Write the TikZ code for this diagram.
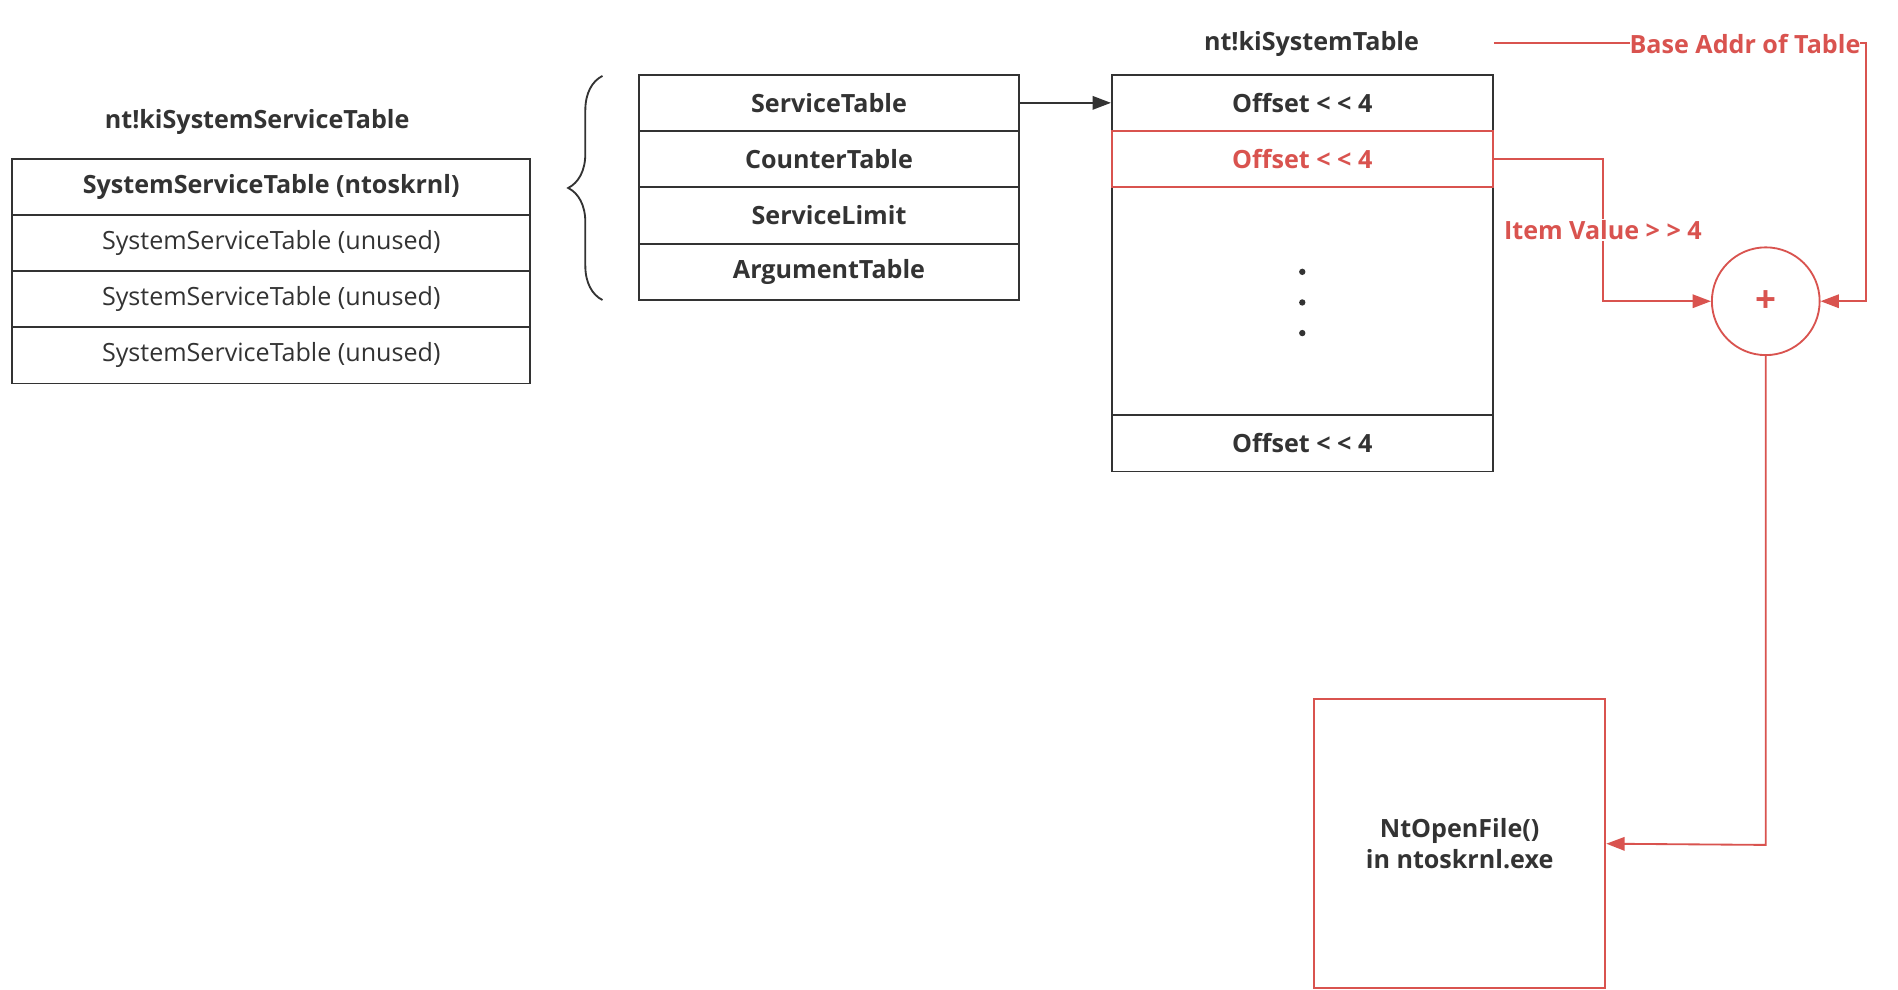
\documentclass[tikz,border=0pt]{standalone}
\usepackage{fontspec}
\setmainfont{Open Sans}
\usetikzlibrary{arrows.meta,decorations.pathreplacing}
\definecolor{ink}{HTML}{333333}
\definecolor{redc}{HTML}{D9534F}
\newcommand{\fsz}{\fontsize{20.5}{24}\selectfont}
\begin{document}
\begin{tikzpicture}[x=1pt,y=-1pt,
  cell/.style={draw=ink,line width=1.5pt,rectangle,inner sep=0pt,text=ink,font=\fsz\bfseries},
  lcell/.style={cell,minimum width=423pt,minimum height=45.75pt},
  mcell/.style={cell,minimum width=310pt,minimum height=46pt},
  rcell/.style={cell,minimum width=311pt,minimum height=46pt},
  title/.style={text=ink,font=\fsz\bfseries,inner sep=0pt},
  redline/.style={draw=redc,line width=1.5pt},
  redarrow/.style={redline,-{Triangle[length=15pt,width=11pt]}},
  redlabel/.style={text=redc,font=\fsz\bfseries,fill=white,inner sep=1pt}
]
\useasboundingbox (0,0) rectangle (1550,808);
\fill[white] (0,0) rectangle (1550,808);

% left table
\node[title] (ltitle) at (210,100) {nt!kiSystemServiceTable};
\node[lcell] (l1) at (221.5,153) {SystemServiceTable (ntoskrnl)};
\node[lcell,font=\fsz] (l2) at (221.5,198.75) {SystemServiceTable (unused)};
\node[lcell,font=\fsz] (l3) at (221.5,244.5) {SystemServiceTable (unused)};
\node[lcell,font=\fsz] (l4) at (221.5,290.25) {SystemServiceTable (unused)};

% brace
\draw[ink,line width=1.5pt,decorate,decoration={brace,amplitude=28pt}] (492,245) -- (492,62);

% middle table
\node[mcell] (m1) at (677,84) {ServiceTable};
\node[mcell] (m2) at (677,130) {CounterTable};
\node[mcell] (m3) at (677,176) {ServiceLimit};
\node[mcell] (m4) at (677,222) {ArgumentTable};

% right table
\node[title] (rtitle) at (1071,36) {nt!kiSystemTable};
\node[rcell] (r1) at (1063.5,84) {Offset < < 4};
\node[rcell,minimum height=186pt] (rmid) at (1063.5,246) {};
\node[rcell] (r4) at (1063.5,362) {Offset < < 4};
\node[rcell,draw=redc,text=redc] (r2) at (1063.5,130) {Offset < < 4};
\foreach \yy in {222,247,272} \fill[ink] (1063.5,\yy) circle (2.6pt);

% arrow middle to right
\draw[ink,line width=1.5pt,-{Triangle[length=15pt,width=11pt]}] (m1.east) -- (r1.west);

% plus circle
\node[circle,draw=redc,line width=1.5pt,minimum size=88pt,inner sep=0pt,text=redc,font=\fontsize{30}{32}\selectfont\bfseries] (plus) at (1442,246) {+};

% base addr line
\coordinate (bstart) at (1220,35);
\draw[redarrow] (bstart) -- (1524,35) -- (1524,246) -- (plus.east);
\node[redlabel,inner sep=0pt] (blabel) at (1425,36) {Base Addr of Table};

% item value line
\draw[redarrow] (r2.east) -- (1309,130) -- (1309,246) -- (plus.west);
\node[redlabel] (ilabel) at (1309,188) {Item Value > > 4};

% NtOpenFile box
\node[draw=redc,line width=1.5pt,rectangle,minimum width=238pt,minimum height=236pt,inner sep=0pt,align=center,text=ink,font=\fontsize{20.5}{26}\selectfont\bfseries] (nt) at (1192,689) {NtOpenFile()\\in ntoskrnl.exe};
\draw[redarrow] (plus.south) -- (1442,690) -- (nt.east);
\end{tikzpicture}
\end{document}
